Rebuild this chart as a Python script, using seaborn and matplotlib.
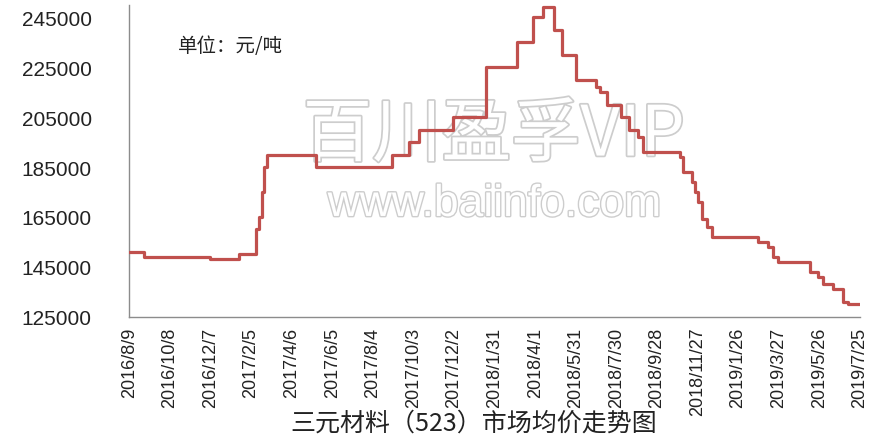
import matplotlib
matplotlib.use("Agg")
from matplotlib import pyplot as plt
from matplotlib import patheffects
import seaborn as sns
import pandas as pd

# дата изменения цены -> новая цена (юань/т), ступенчатый ряд
change_dates = ['2016-08-09', '2016-08-31', '2016-12-06', '2017-01-18', '2017-02-12',
                '2017-02-17', '2017-02-22', '2017-02-24', '2017-02-28', '2017-05-12',
                '2017-09-02', '2017-09-26', '2017-10-11', '2017-12-01', '2018-01-18',
                '2018-03-05', '2018-03-29', '2018-04-13', '2018-04-29', '2018-05-11',
                '2018-06-01', '2018-06-30', '2018-07-06', '2018-07-16', '2018-08-06',
                '2018-08-18', '2018-08-31', '2018-09-08', '2018-11-01', '2018-11-05',
                '2018-11-19', '2018-11-23', '2018-11-28', '2018-12-03', '2018-12-11',
                '2018-12-18', '2019-02-24', '2019-03-11', '2019-03-18', '2019-03-26',
                '2019-05-12', '2019-05-24', '2019-05-31', '2019-06-15', '2019-06-30',
                '2019-07-07', '2019-07-25']
prices = [151000, 149000, 148000, 150000, 160000,
          165000, 175000, 185000, 190000, 185000,
          190000, 195000, 200000, 205000, 225000,
          235000, 245000, 249000, 240000, 230000,
          220000, 217000, 215000, 210000, 205000,
          200000, 197000, 191000, 189000, 183000,
          179000, 175000, 171000, 164000, 161000,
          157000, 155000, 153000, 149000, 147000,
          143000, 141000, 138000, 136000, 131000,
          130000, 130000]

tick_labels = ['2016/8/9', '2016/10/8', '2016/12/7', '2017/2/5', '2017/4/6', '2017/6/5',
               '2017/8/4', '2017/10/3', '2017/12/2', '2018/1/31', '2018/4/1', '2018/5/31',
               '2018/7/30', '2018/9/28', '2018/11/27', '2019/1/26', '2019/3/27',
               '2019/5/26', '2019/7/25']
y_ticks = [125000, 145000, 165000, 185000, 205000, 225000, 245000]

title = '三元材料（523）市场均价走势图'
unit = '单位：元/吨'

sns.set_style('white')
plt.rcParams['font.family'] = ['Liberation Sans', 'Noto Sans CJK SC', 'DejaVu Sans']

df = pd.DataFrame({'date': pd.to_datetime(change_dates), 'price': prices})
tick_pos = pd.to_datetime(tick_labels, format='%Y/%m/%d')

fig = plt.figure(figsize=(8.73, 4.39), dpi=100)
ax = fig.add_axes([0.148, 0.276, 0.837, 0.711])

# водяной знак
ax.text(0.499, 0.58, '百川盈孚VIP', transform=ax.transAxes, ha='center', va='center',
        fontsize=50, color='white', family=['Noto Sans CJK SC'], zorder=0,
        path_effects=[patheffects.withStroke(linewidth=2.5, foreground='#cdcdcd')])
ax.text(0.5, 0.36, 'www.baiinfo.com', transform=ax.transAxes, ha='center', va='center',
        fontsize=32, color='white', family=['Liberation Sans'], zorder=0,
        path_effects=[patheffects.withStroke(linewidth=2, foreground='#cdcdcd')])

sns.lineplot(data=df, x='date', y='price', drawstyle='steps-post', color='#C0504D',
             linewidth=2.3, ax=ax, zorder=3)

ax.set_xlim(tick_pos[0], tick_pos[-1])
ax.set_ylim(125000, 250000)
ax.set_yticks(y_ticks)
ax.set_yticklabels([str(v) for v in y_ticks], fontsize=15, color='#222222')
ax.set_xticks(tick_pos)
ax.set_xticklabels(tick_labels, rotation=90, fontsize=13, color='#222222',
                   family=['Liberation Sans Narrow', 'Liberation Sans'], va='top', ha='center')
ax.tick_params(axis='y', length=0, pad=27)
ax.tick_params(axis='x', length=0, pad=7)
ax.set_xlabel('')
ax.set_ylabel('')

sns.despine(ax=ax)
for side in ['left', 'bottom']:
    ax.spines[side].set_color('#8c8c8c')
    ax.spines[side].set_linewidth(1)

ax.text(0.067, 0.869, unit, transform=ax.transAxes, fontsize=14, color='#222222',
        family=['Noto Sans CJK SC'], va='center', ha='left')
fig.text(0.543, 0.035, title, fontsize=18, color='#222222', family=['Noto Sans CJK SC'],
         ha='center', va='center')

fig.savefig('out.png', dpi=100)
